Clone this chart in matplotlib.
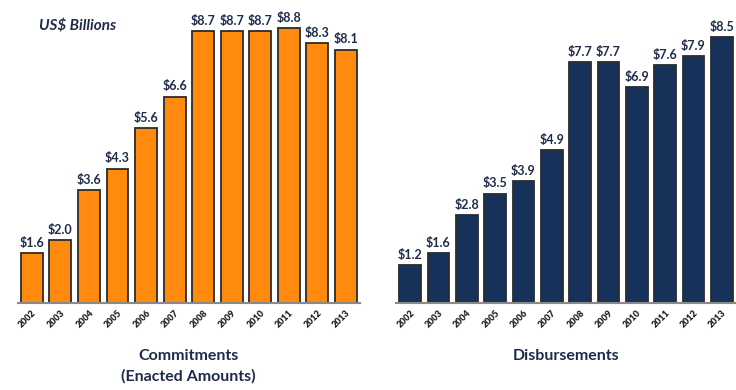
import matplotlib.pyplot as plt

years = [str(y) for y in range(2002, 2014)]
commitments = [1.6, 2.0, 3.6, 4.3, 5.6, 6.6, 8.7, 8.7, 8.7, 8.8, 8.3, 8.1]
disbursements = [1.2, 1.6, 2.8, 3.5, 3.9, 4.9, 7.7, 7.7, 6.9, 7.6, 7.9, 8.5]

ORANGE = "#FF8A0D"
NAVY = "#16325A"
TEXT = "#1E2C4A"

plt.rcParams["font.family"] = ["Lato", "DejaVu Sans"]

fig = plt.figure(figsize=(7.36, 3.9), dpi=100)
ax_left = fig.add_axes([0.024, 0.223, 0.465, 0.746])
ax_right = fig.add_axes([0.538, 0.223, 0.462, 0.746])


def draw(ax, values, color, title):
    x = range(len(values))
    bars = ax.bar(x, values, width=0.77, color=color, edgecolor="#2b2b2b", linewidth=1.3)
    for bar, v in zip(bars, values):
        ax.annotate(f"${v:.1f}", (bar.get_x() + bar.get_width() / 2, v),
                    xytext=(0, 3), textcoords="offset points", ha="center", va="bottom",
                    fontsize=9, fontweight="bold", color=TEXT)
    ax.set_xlim(-0.5, len(values) - 0.5)
    ax.set_ylim(0, 9.3)
    ax.set_xticks(list(x))
    ax.set_xticklabels(years, rotation=45, ha="right", rotation_mode="anchor",
                       fontsize=6.5, fontweight="heavy", color="#222222")
    ax.tick_params(axis="x", length=0, pad=4)
    ax.set_yticks([])
    for side in ("top", "left", "right"):
        ax.spines[side].set_visible(False)
    ax.spines["bottom"].set_color("#8a8a8a")
    ax.spines["bottom"].set_linewidth(1.5)
    ax.set_xlabel(title, fontsize=11.5, fontweight="bold", color=TEXT, labelpad=14,
                  linespacing=1.5)


draw(ax_left, commitments, ORANGE, "Commitments\n(Enacted Amounts)")
draw(ax_right, disbursements, NAVY, "Disbursements")

fig.text(0.053, 0.922, "US$ Billions", fontsize=11, fontweight="bold", fontstyle="italic",
         color=TEXT)

fig.savefig("out.png", dpi=100)
